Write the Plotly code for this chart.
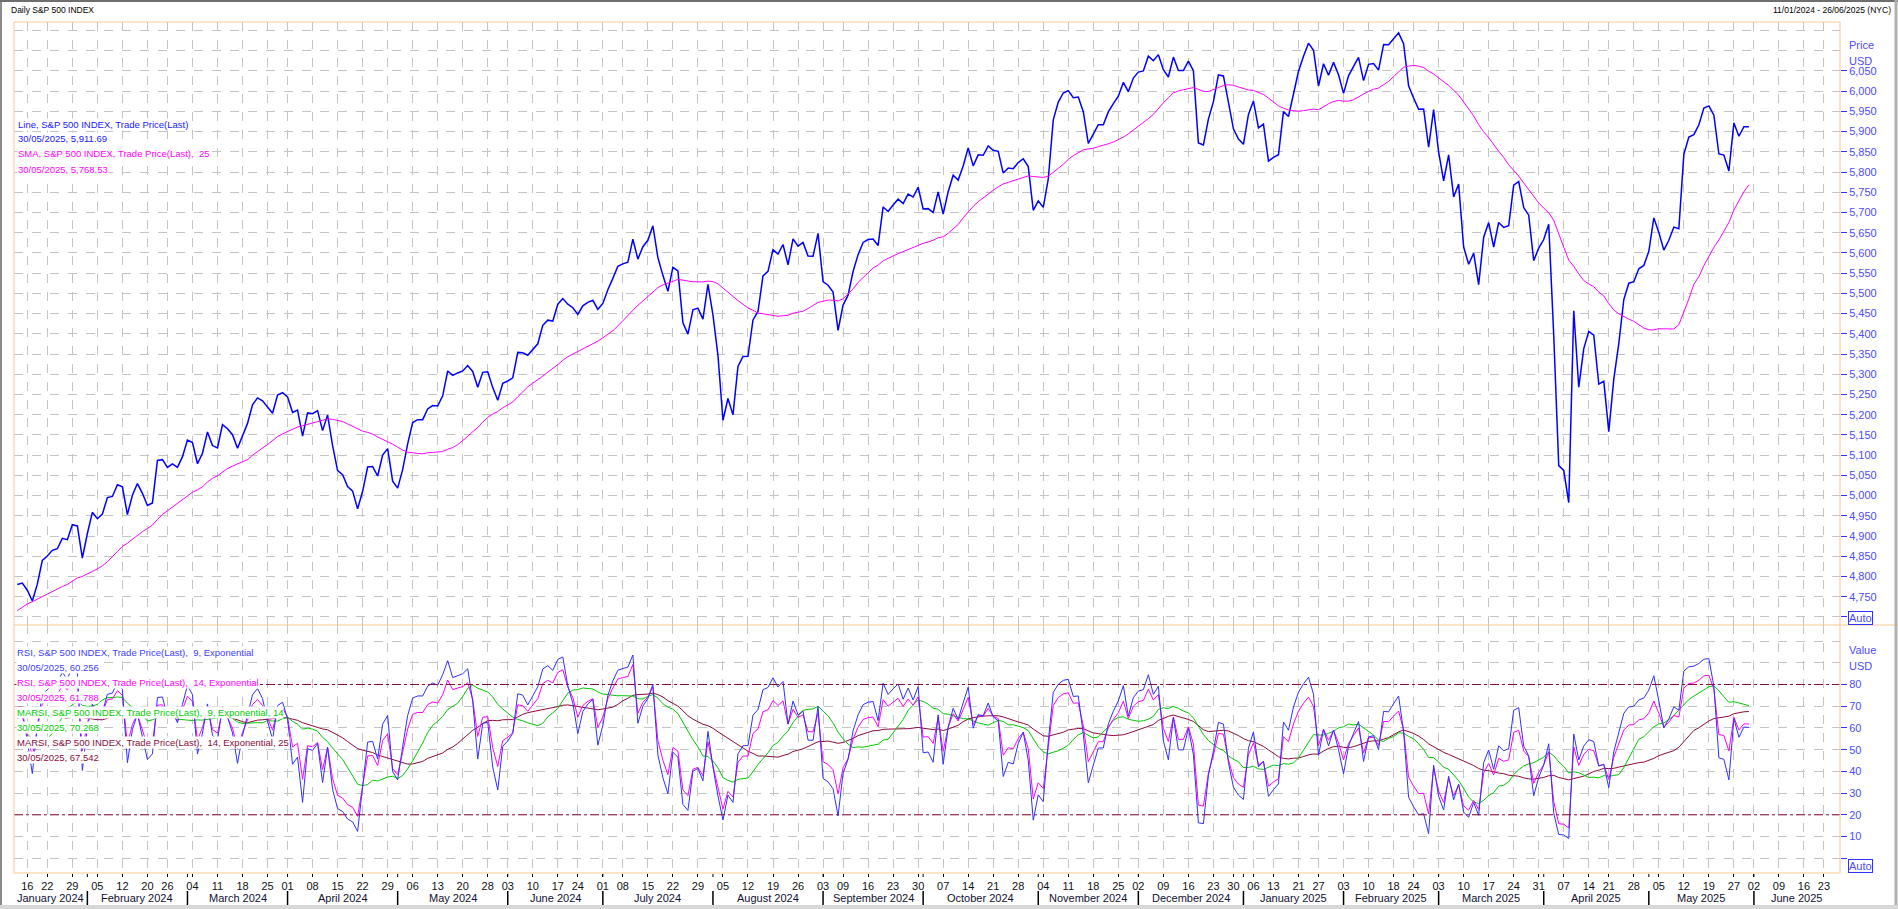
import numpy as np
import pandas as pd
import plotly.graph_objects as go

# ---------------- data ----------------
# S&P 500 daily closes used to warm up the indicators (1 Nov 2023 - 10 Jan 2024)
warmup_closes = [
    4237.86, 4317.78, 4358.34, 4365.98, 4378.38, 4382.78, 4347.35, 4415.24, 4411.55, 4495.70,
    4502.88, 4508.24, 4514.02, 4547.38, 4538.19, 4556.62, 4559.34, 4550.43, 4554.89, 4550.58, 4567.80,
    4594.63, 4569.78, 4567.18, 4549.34, 4585.59, 4604.37, 4622.44, 4643.70, 4707.09, 4719.55,
    4719.19, 4740.56, 4768.37, 4698.35, 4746.75, 4754.63, 4774.75, 4781.58, 4783.35, 4769.83,
    4742.83, 4704.81, 4688.68, 4697.24, 4763.54, 4756.50, 4783.45,
]
# visible closes, 11 Jan 2024 - 31 Dec 2024
close_2024 = [
    4780.24, 4783.83, 4765.98, 4739.21, 4780.94, 4839.81, 4850.43, 4864.60, 4868.55, 4894.16, 4890.97, 4927.93, 4924.97, 4845.65,
    4906.19, 4958.61, 4942.81, 4954.23, 4995.06, 4997.91, 5026.61, 5021.84, 4953.17, 5000.62, 5029.73, 5005.57, 4975.51, 4981.80, 5087.03, 5088.80, 5069.53, 5078.18, 5069.76, 5096.27,
    5137.08, 5130.95, 5078.65, 5104.76, 5157.36, 5123.69, 5117.94, 5175.27, 5165.31, 5150.48, 5117.09, 5149.42, 5178.51, 5224.62, 5241.53, 5234.18, 5218.19, 5203.58, 5248.49, 5254.35,
    5243.77, 5205.81, 5211.49, 5147.21, 5204.34, 5202.39, 5209.91, 5160.64, 5199.06, 5123.41, 5061.82, 5051.41, 5022.21, 5011.12, 4967.23, 5010.60, 5070.55, 5071.63, 5048.42, 5099.96, 5116.17, 5035.69,
    5018.39, 5064.20, 5127.79, 5180.74, 5187.70, 5187.67, 5214.08, 5222.68, 5221.42, 5246.68, 5308.15, 5297.10, 5303.27, 5308.13, 5321.41, 5307.01, 5267.84, 5304.72, 5306.04, 5266.95, 5235.48, 5277.51,
    5283.40, 5291.34, 5354.03, 5352.96, 5346.99, 5360.79, 5375.32, 5421.03, 5433.74, 5431.60, 5473.23, 5487.03, 5473.17, 5464.62, 5447.87, 5469.30, 5477.90, 5482.87, 5460.48,
    5475.09, 5509.01, 5537.02, 5567.19, 5572.85, 5576.98, 5633.91, 5584.54, 5615.35, 5631.22, 5667.20, 5588.27, 5544.59, 5505.00, 5564.41, 5555.74, 5427.13, 5399.22, 5459.10, 5463.54, 5436.44, 5522.30,
    5446.68, 5346.56, 5186.33, 5240.03, 5199.50, 5319.31, 5344.16, 5344.39, 5434.43, 5455.21, 5543.22, 5554.25, 5608.25, 5597.12, 5620.85, 5570.64, 5634.61, 5616.84, 5625.80, 5592.18, 5591.96, 5648.40,
    5528.93, 5520.07, 5503.41, 5408.42, 5471.05, 5495.52, 5554.13, 5595.76, 5626.02, 5633.09, 5634.58, 5618.26, 5713.64, 5702.55, 5718.57, 5732.93, 5722.26, 5745.37, 5738.17, 5762.48,
    5708.75, 5709.54, 5699.94, 5751.07, 5695.94, 5751.13, 5792.04, 5780.05, 5815.03, 5859.85, 5815.26, 5842.47, 5841.47, 5864.67, 5853.98, 5851.20, 5797.42, 5809.86, 5808.12, 5823.52, 5832.92, 5813.67, 5705.45,
    5728.80, 5712.69, 5782.76, 5929.04, 5973.10, 5995.54, 6001.35, 5983.99, 5985.38, 5949.17, 5870.62, 5893.62, 5916.98, 5917.11, 5948.71, 5969.34, 5987.37, 6021.63, 5998.74, 6032.38,
    6047.15, 6049.88, 6086.49, 6075.11, 6090.27, 6052.85, 6034.91, 6084.19, 6051.25, 6051.09, 6074.08, 6050.61, 5872.16, 5867.08, 5930.85, 5974.07, 6040.04, 6037.59, 5970.84, 5906.94, 5881.63,
]
# visible closes, 2 Jan 2025 - 30 May 2025
close_2025 = [
    5868.55, 5942.47, 5975.38, 5909.03, 5918.25, 5827.04, 5836.22, 5842.91, 5949.91, 5937.34, 5996.66, 6049.24, 6086.37, 6118.71, 6101.24, 6012.28, 6067.70, 6039.31, 6071.17, 6040.53,
    5994.57, 6037.88, 6061.48, 6083.57, 6025.99, 6066.44, 6068.50, 6051.97, 6115.07, 6114.63, 6129.58, 6144.15, 6117.52, 6013.13, 5983.25, 5955.25, 5956.06, 5861.57, 5954.50,
    5849.72, 5778.15, 5842.63, 5738.52, 5770.20, 5614.56, 5572.07, 5599.30, 5521.52, 5638.94, 5675.12, 5614.66, 5675.29, 5662.89, 5667.56, 5767.57, 5776.65, 5712.20, 5693.31, 5580.94, 5611.85,
    5633.07, 5670.97, 5396.52, 5074.08, 5062.25, 4982.77, 5456.90, 5268.05, 5363.36, 5405.97, 5396.63, 5275.70, 5282.70, 5158.20, 5287.76, 5375.86, 5484.77, 5525.21, 5528.75, 5560.83, 5569.06,
    5604.14, 5686.67, 5650.38, 5606.91, 5631.28, 5663.94, 5659.91, 5844.19, 5886.55, 5892.58, 5916.93, 5958.38, 5963.60, 5940.46, 5844.61, 5842.01, 5802.82, 5921.54, 5888.55, 5912.17, 5911.69,
]
market_holidays = [
    "2023-11-23", "2023-12-25", "2024-01-01", "2024-01-15", "2024-02-19", "2024-03-29", "2024-05-27",
    "2024-06-19", "2024-07-04", "2024-09-02", "2024-11-28", "2024-12-25", "2025-01-01", "2025-01-09",
    "2025-01-20", "2025-02-17", "2025-04-18", "2025-05-26", "2025-06-19",
]
series_start, axis_end = "2023-11-01", "2025-06-26"
sma_period = 25
rsi_fast, rsi_slow = 9, 14
marsi_fast, marsi_slow = 14, 25

# ---------------- indicators (as defined by the chart's studies) ----------------
all_close = pd.Series(warmup_closes + close_2024 + close_2025, dtype=float)
n_warm = len(warmup_closes)
n_data = len(close_2024) + len(close_2025)
dates = pd.bdate_range(series_start, axis_end, freq="C", holidays=market_holidays)


def rsi_exp(c, n):
    d = c.diff()
    up = d.clip(lower=0)
    dn = (-d).clip(lower=0)
    a = 2.0 / (n + 1)
    au = up.ewm(alpha=a, adjust=False).mean()
    ad = dn.ewm(alpha=a, adjust=False).mean()
    return 100 - 100 / (1 + au / ad)


sma = all_close.rolling(sma_period).mean()
rsi9 = rsi_exp(all_close, rsi_fast)
rsi14 = rsi_exp(all_close, rsi_slow)
marsi9 = rsi9.rolling(marsi_fast).mean()
marsi14 = rsi14.rolling(marsi_slow).mean()

sl = slice(n_warm, n_warm + n_data)
close_v = all_close.iloc[sl].values
sma_v = sma.iloc[sl].values
rsi9_v, rsi14_v = rsi9.iloc[sl].values, rsi14.iloc[sl].values
marsi9_v, marsi14_v = marsi9.iloc[sl].values, marsi14.iloc[sl].values
x = np.arange(n_data)

# axis positions (trading-day index, 0 = 11 Jan 2024)
idx_all = np.arange(len(dates)) - n_warm
dser = pd.Series(dates)
iso = dser.dt.isocalendar()
wk_key = iso["year"].astype(str) + "-" + iso["week"].astype(str)
first_of_week = ~wk_key.duplicated()
week_idx = [int(i) for i, f in zip(idx_all, first_of_week) if f and i >= 0]
week_txt = ["%02d" % dates[i + n_warm].day for i in week_idx]
mkey = dser.dt.strftime("%Y-%m")
first_of_month = ~mkey.duplicated()
month_idx = [int(i) for i, f in zip(idx_all, first_of_month) if f and i > 0]

X0, X1 = -0.66, 364.2
PL, PR, PT, PB = 14, 1840, 22, 873
W, H = 1898, 909
split_px = 625
dom_split = (PB - split_px) / (PB - PT)


def px(p):
    return (p - PL) / (PR - PL)


def py(p):
    return (PB - p) / (PB - PT)


BLUE_TXT = "#4b4bff"
GRID = "#c4c4c4"
ORANGE = "#f8c890"
FONT = "Liberation Sans, Arial, sans-serif"

fig = go.Figure()
fig.add_trace(go.Scatter(x=x, y=close_v, mode="lines", line=dict(color="#0000ff", width=1.5),
                         xaxis="x", yaxis="y", hoverinfo="skip"))
fig.add_trace(go.Scatter(x=x, y=sma_v, mode="lines", line=dict(color="#ff00ff", width=1),
                         xaxis="x", yaxis="y", hoverinfo="skip"))
fig.add_trace(go.Scatter(x=x, y=marsi14_v, mode="lines", line=dict(color="#8b0a3a", width=1),
                         xaxis="x2", yaxis="y2", hoverinfo="skip"))
fig.add_trace(go.Scatter(x=x, y=marsi9_v, mode="lines", line=dict(color="#00c800", width=1),
                         xaxis="x2", yaxis="y2", hoverinfo="skip"))
fig.add_trace(go.Scatter(x=x, y=rsi14_v, mode="lines", line=dict(color="#ff00ff", width=1),
                         xaxis="x2", yaxis="y2", hoverinfo="skip"))
fig.add_trace(go.Scatter(x=x, y=rsi9_v, mode="lines", line=dict(color="#3030ff", width=1),
                         xaxis="x2", yaxis="y2", hoverinfo="skip"))

# last-value diamonds on the right axis
mx = X0 + (1845 - PL) / (PR - PL) * (X1 - X0)
fig.add_trace(go.Scatter(x=[mx, mx], y=[sma_v[-1], close_v[-1]], mode="markers", cliponaxis=False,
                         marker=dict(symbol="diamond", size=9, color=["#ff00ff", "#0000ff"]),
                         xaxis="x", yaxis="y", hoverinfo="skip"))
fig.add_trace(go.Scatter(x=[mx] * 4, y=[marsi9_v[-1], marsi14_v[-1], rsi14_v[-1], rsi9_v[-1]],
                         mode="markers", cliponaxis=False,
                         marker=dict(symbol="diamond", size=9,
                                     color=["#00c800", "#8b0a3a", "#ff00ff", "#3030ff"]),
                         xaxis="x2", yaxis="y2", hoverinfo="skip"))

p_ticks = list(range(4700, 6051, 50))
p_text = ["" if v == 4700 else f"{v:,}" for v in p_ticks]
r_ticks = list(range(0, 81, 10))
r_text = ["" if v == 0 else str(v) for v in r_ticks]

axis_common = dict(showline=False, zeroline=False, showgrid=True, gridcolor=GRID, griddash="dash", gridwidth=1)

fig.update_layout(
    width=W, height=H, margin=dict(l=PL, r=W - PR, t=PT, b=H - PB),
    paper_bgcolor="white", plot_bgcolor="white", showlegend=False,
    font=dict(family=FONT, size=11, color="#000000"),
    xaxis=dict(domain=[0, 1], anchor="y", range=[X0, X1], tickvals=week_idx, showticklabels=False,
               ticks="", **axis_common),
    yaxis=dict(domain=[dom_split, 1], anchor="x", side="right", range=[4680, 6171],
               tickvals=p_ticks, ticktext=p_text, ticks="outside", ticklen=6, tickcolor="#3030ff",
               tickfont=dict(color=BLUE_TXT, size=11, family=FONT),
               minor=dict(tickvals=[6100, 6150], showgrid=True, gridcolor=GRID, griddash="dash", ticks=""),
               **axis_common),
    xaxis2=dict(domain=[0, 1], anchor="y2", range=[X0, X1], tickvals=week_idx, ticktext=week_txt,
                ticks="outside", ticklen=3, tickcolor="#000000",
                tickfont=dict(color="#101010", size=11, family=FONT), **axis_common),
    yaxis2=dict(domain=[0, dom_split], anchor="x2", side="right", range=[-6.8, 107.4],
                tickvals=r_ticks, ticktext=r_text, ticks="outside", ticklen=6, tickcolor="#3030ff",
                tickfont=dict(color=BLUE_TXT, size=11, family=FONT),
                minor=dict(tickvals=[90, 100], showgrid=True, gridcolor=GRID, griddash="dash", ticks=""),
                **axis_common),
)

shapes = []
for lv in (80, 20):
    shapes.append(dict(type="line", xref="paper", yref="y2", x0=0, x1=1, y0=lv, y1=lv,
                       line=dict(color="#8b0a3a", width=1, dash="dashdot")))
shapes.append(dict(type="rect", xref="paper", yref="paper", x0=0, x1=1, y0=0, y1=1,
                   line=dict(color=ORANGE, width=1)))
shapes.append(dict(type="line", xref="paper", yref="paper", x0=0, x1=px(1898), y0=dom_split, y1=dom_split,
                   line=dict(color=ORANGE, width=1)))
shapes.append(dict(type="line", xref="paper", yref="paper", x0=px(1), x1=px(1), y0=py(909), y1=py(0),
                   line=dict(color="#8a8a8a", width=2)))
shapes.append(dict(type="line", xref="paper", yref="paper", x0=px(0), x1=px(1898), y0=py(1), y1=py(1),
                   line=dict(color="#6e6e6e", width=2)))
shapes.append(dict(type="line", xref="paper", yref="paper", x0=px(1896), x1=px(1896), y0=py(909), y1=py(0),
                   line=dict(color="#b0b0b0", width=3)))
shapes.append(dict(type="line", xref="paper", yref="paper", x0=px(0), x1=px(1898), y0=py(907), y1=py(907),
                   line=dict(color="#d8d8d8", width=4)))
for mi in month_idx:
    xp = px(PL + (mi - X0) / (X1 - X0) * (PR - PL))
    shapes.append(dict(type="line", xref="paper", yref="paper", x0=xp, x1=xp, y0=py(891), y1=py(905),
                       line=dict(color="#000000", width=1.5)))
    shapes.append(dict(type="line", xref="paper", yref="paper", x0=xp, x1=xp, y0=py(874), y1=py(877),
                       line=dict(color="#000000", width=1)))
fig.update_layout(shapes=shapes)

ann = []
bounds = [X0] + month_idx + [X1]
month_dates = [dates[n_warm]] + [dates[m + n_warm] for m in month_idx]
for (a, b), d in zip(zip(bounds[:-1], bounds[1:]), month_dates):
    c = (a + b) / 2
    ann.append(dict(x=c, xref="x2", y=py(898), yref="paper", text=d.strftime("%B %Y"), showarrow=False,
                    font=dict(size=11, color="#101030", family=FONT), xanchor="center", yanchor="middle"))

ann.append(dict(x=px(9), y=py(10), xref="paper", yref="paper", text="Daily S&P 500 INDEX", showarrow=False,
                xanchor="left", yanchor="middle", font=dict(size=8.5, color="#000000", family=FONT)))
ann.append(dict(x=px(1893), y=py(10), xref="paper", yref="paper", text="11/01/2024 - 26/06/2025 (NYC)",
                showarrow=False, xanchor="right", yanchor="middle", font=dict(size=8.5, color="#000000", family=FONT)))

for txt, yy in (("Price", 45), ("USD", 61), ("Value", 650), ("USD", 666)):
    ann.append(dict(x=px(1847), y=py(yy), xref="paper", yref="paper", text=txt, showarrow=False,
                    xanchor="left", yanchor="middle", font=dict(size=11, color=BLUE_TXT, family=FONT)))
for yy in (617.5, 866):
    ann.append(dict(x=px(1848), y=py(yy), xref="paper", yref="paper", text="Auto", showarrow=False,
                    xanchor="left", yanchor="middle", bordercolor="#3030ff", borderwidth=1, borderpad=0,
                    font=dict(size=11, color=BLUE_TXT, family=FONT)))

leg_top = [
    ("Line, S&P 500 INDEX, Trade Price(Last)", "#2020ff"),
    (f"30/05/2025, {close_v[-1]:,.2f}", "#2020ff"),
    (f"SMA, S&P 500 INDEX, Trade Price(Last),  {sma_period}", "#ff00ff"),
    (f"30/05/2025, {sma_v[-1]:,.2f}", "#ff00ff"),
]
for i, (t, c) in enumerate(leg_top):
    ann.append(dict(x=px(17), y=py(124 + 15 * i), xref="paper", yref="paper", text=t, showarrow=False,
                    xanchor="left", yanchor="middle", bgcolor="white", borderpad=0,
                    font=dict(size=9.5, color=c, family=FONT)))
leg_bot = [
    (f"RSI, S&P 500 INDEX, Trade Price(Last),  {rsi_fast}, Exponential", "#4040ff"),
    (f"30/05/2025, {rsi9_v[-1]:.3f}", "#4040ff"),
    (f"RSI, S&P 500 INDEX, Trade Price(Last),  {rsi_slow}, Exponential", "#ff00ff"),
    (f"30/05/2025, {rsi14_v[-1]:.3f}", "#ff00ff"),
    (f"MARSI, S&P 500 INDEX, Trade Price(Last),  {rsi_fast}, Exponential, {marsi_fast}", "#00cc00"),
    (f"30/05/2025, {marsi9_v[-1]:.3f}", "#00cc00"),
    (f"MARSI, S&P 500 INDEX, Trade Price(Last),  {rsi_slow}, Exponential, {marsi_slow}", "#8b0a3a"),
    (f"30/05/2025, {marsi14_v[-1]:.3f}", "#8b0a3a"),
]
for i, (t, c) in enumerate(leg_bot):
    ann.append(dict(x=px(16), y=py(652 + 15 * i), xref="paper", yref="paper", text=t, showarrow=False,
                    xanchor="left", yanchor="middle", bgcolor="white", borderpad=0,
                    font=dict(size=9.5, color=c, family=FONT)))

fig.update_layout(annotations=ann)
fig.write_html("out.html", config={"displayModeBar": False},
               post_script="document.body.style.margin='0';")
